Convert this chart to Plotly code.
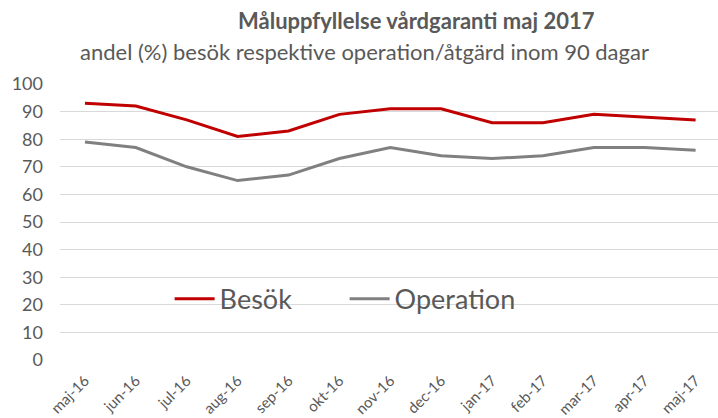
import plotly.graph_objects as go

months = ["maj-16", "jun-16", "jul-16", "aug-16", "sep-16", "okt-16", "nov-16",
          "dec-16", "jan-17", "feb-17", "mar-17", "apr-17", "maj-17"]
besok = [93, 92, 87, 81, 83, 89, 91, 91, 86, 86, 89, 88, 87]
operation = [79, 77, 70, 65, 67, 73, 77, 74, 73, 74, 77, 77, 76]

FONT = "Lato"
TXT = "#595959"

fig = go.Figure()
fig.add_trace(go.Scatter(x=months, y=besok, name="Besök", mode="lines",
                         line=dict(color="#C00000", width=3)))
fig.add_trace(go.Scatter(x=months, y=operation, name="Operation", mode="lines",
                         line=dict(color="#808080", width=3)))

fig.update_layout(
    width=718, height=418,
    margin=dict(l=60, r=0, t=84, b=58),
    plot_bgcolor="white", paper_bgcolor="white",
    font=dict(family=FONT, color=TXT),
    showlegend=True,
    legend=dict(orientation="h", x=0.1666, y=0.22, xanchor="left", yanchor="middle",
                font=dict(size=27, color=TXT), bgcolor="rgba(0,0,0,0)",
                itemwidth=40, entrywidth=120),
    annotations=[
        dict(text="<b>Måluppfyllelse vårdgaranti maj 2017</b>", x=416, y=20,
             font=dict(size=22, color=TXT)),
        dict(text="andel (%) besök respektive operation/åtgärd inom 90 dagar", x=364, y=52,
             font=dict(size=22, color=TXT)),
    ],
)
# titles placed by pixel position, converted to paper coords
for a in fig.layout.annotations:
    a.update(xref="paper", yref="paper", showarrow=False, xanchor="center", yanchor="middle",
             x=(a.x - 60) / 658, y=(418 - 58 - a.y) / 276)

fig.update_xaxes(range=[-0.49, 12.44], showgrid=False, showline=False, ticks="",
                 tickangle=-45, tickfont=dict(size=15, color=TXT), automargin=False,
                 ticklabelstandoff=8)
fig.update_yaxes(range=[0, 100], dtick=10, showgrid=True, gridcolor="#D9D9D9",
                 zeroline=False, showline=False, ticks="", tickfont=dict(size=18, color=TXT),
                 automargin=False, ticklabelstandoff=16)

fig.write_html("out.html", config={"displayModeBar": False},
               post_script="document.body.style.margin = '0';")
